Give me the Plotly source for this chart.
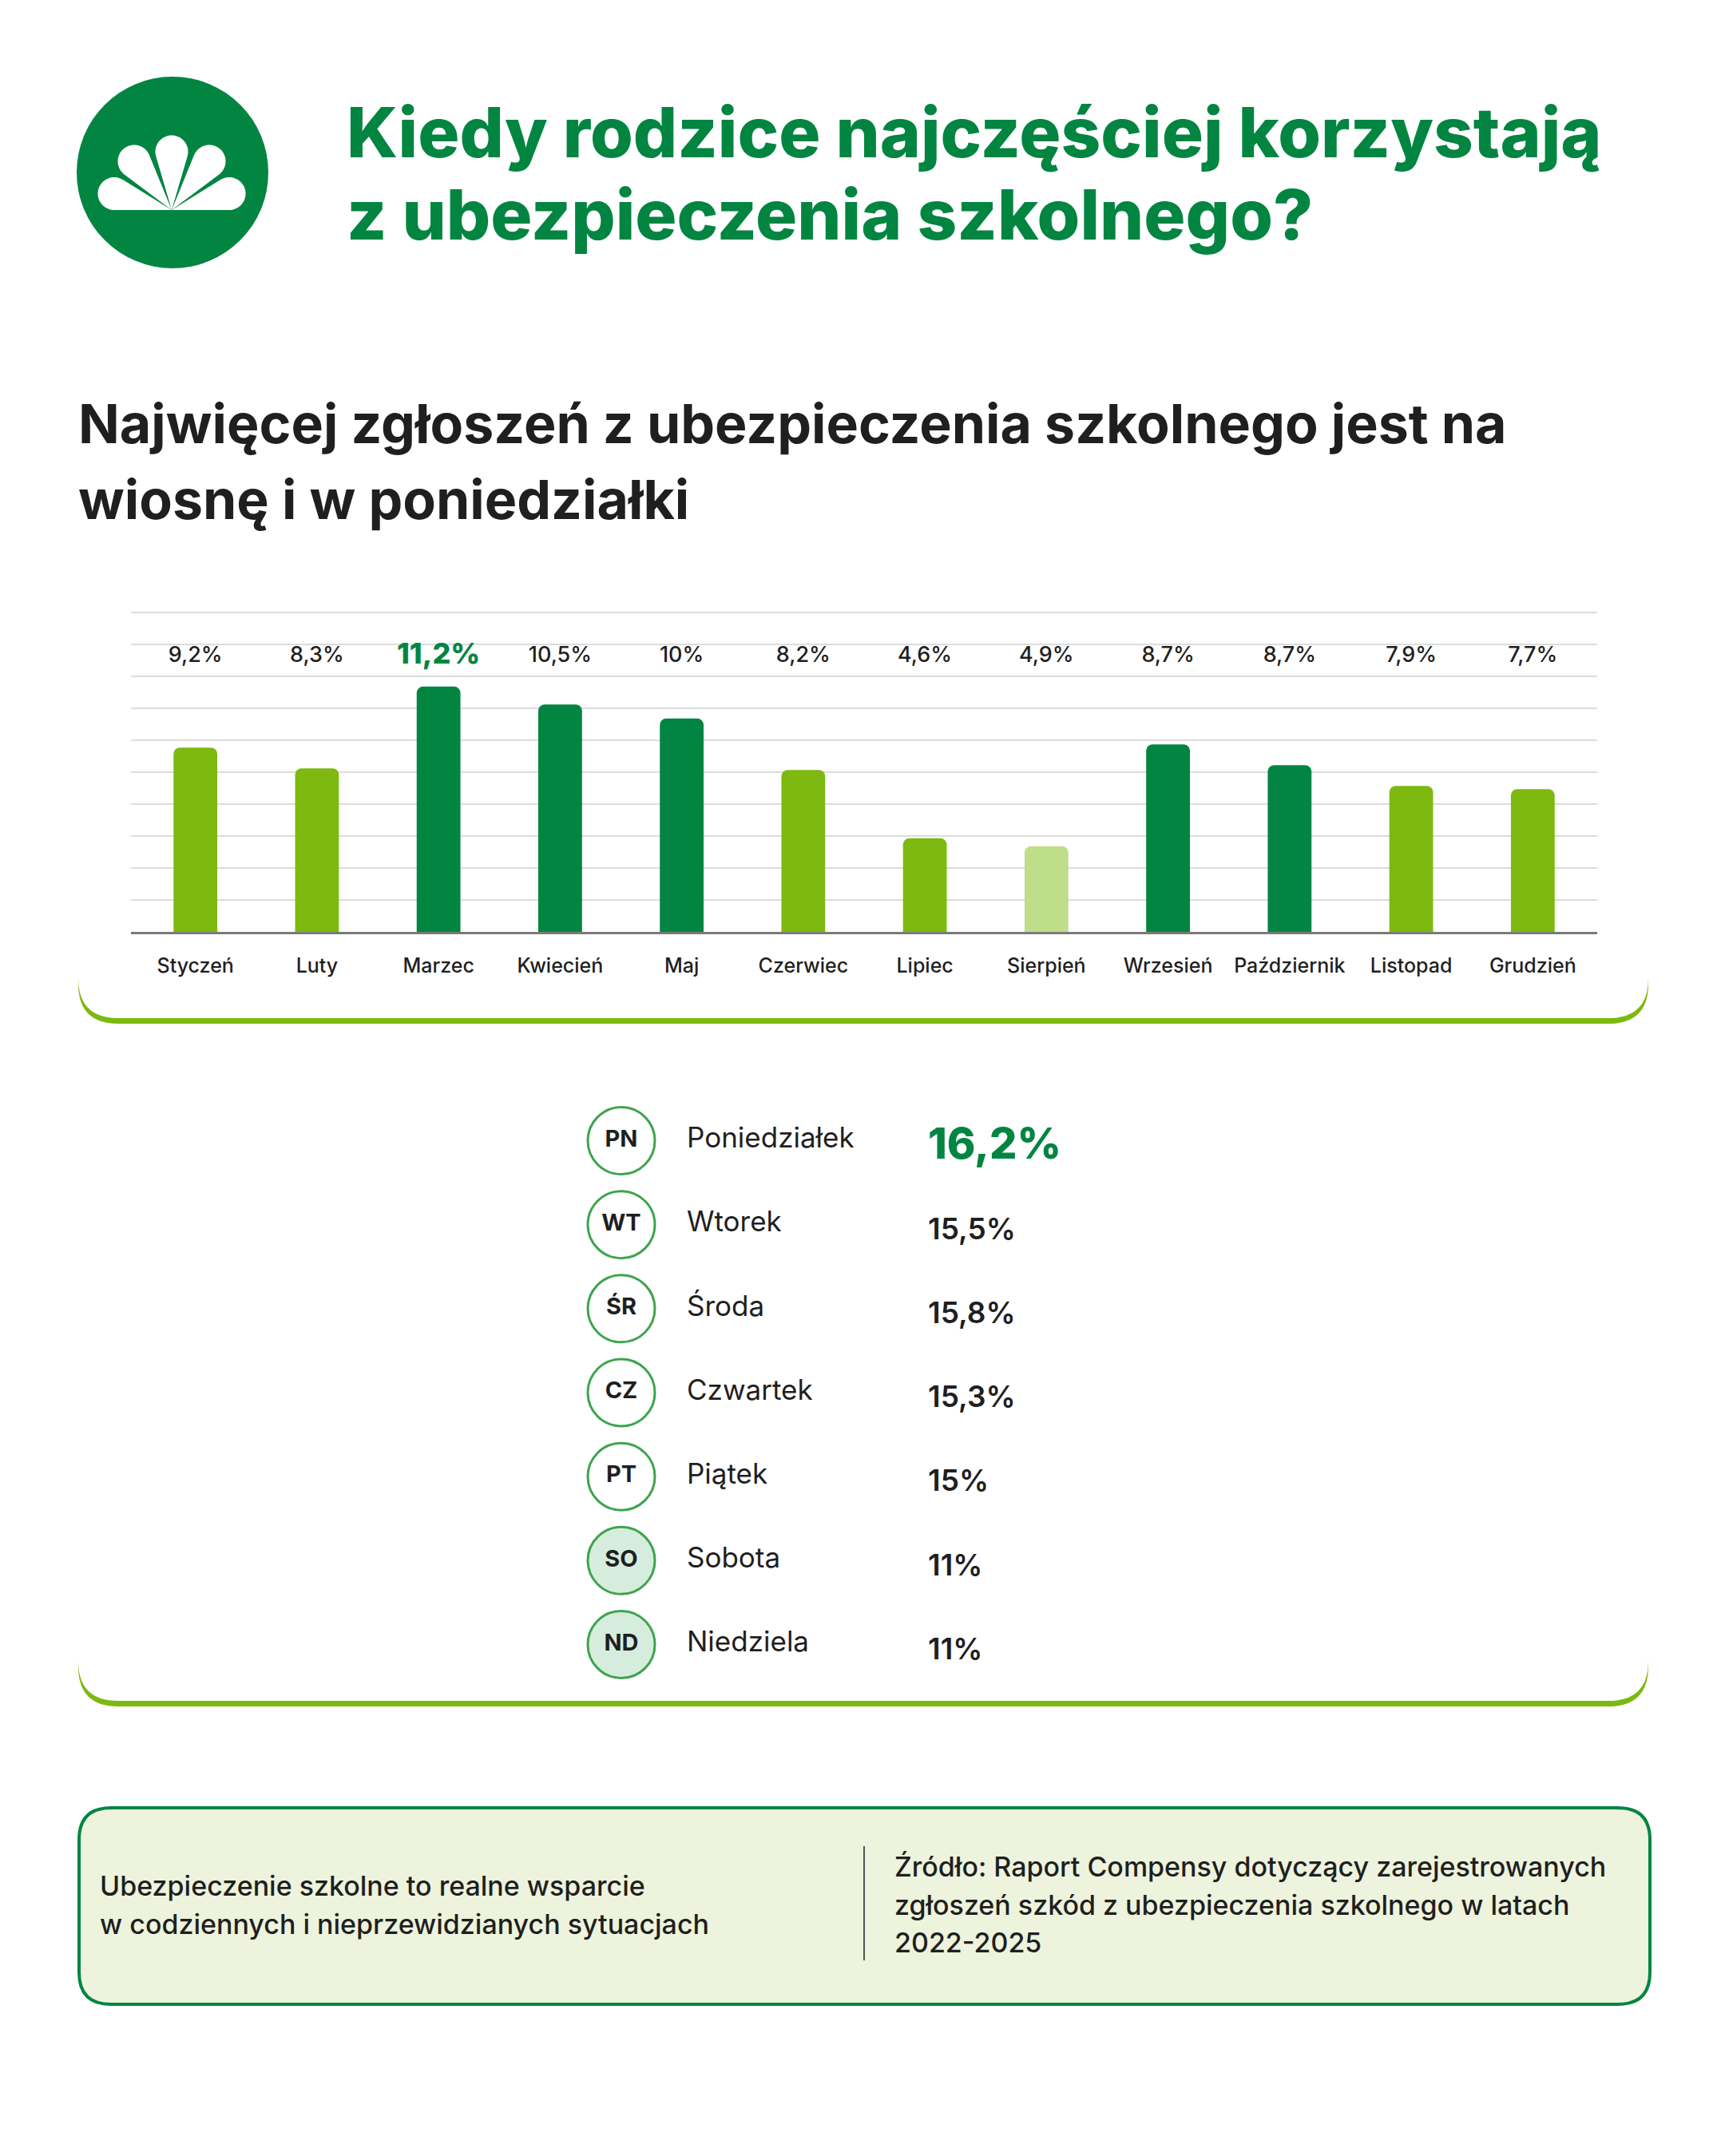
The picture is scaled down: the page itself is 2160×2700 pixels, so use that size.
import math

import plotly.graph_objects as go

# the page puts the plot 8px in from the top left corner, so the figure is
# made 8px smaller and every position below is given in page pixels
OFF = 8
W, H = 2160 - OFF, 2700 - OFF
FONT = 'Inter'
DARK_GREEN = '#038542'
LIGHT_GREEN = '#7DB910'
PALE_GREEN = '#BFDE8A'
TEXT = '#1f1f1f'

# months: labels printed above the bars and bar heights as drawn (grid units)
months = ['Styczeń', 'Luty', 'Marzec', 'Kwiecień', 'Maj', 'Czerwiec', 'Lipiec',
          'Sierpień', 'Wrzesień', 'Październik', 'Listopad', 'Grudzień']
month_labels = ['9,2%', '8,3%', '11,2%', '10,5%', '10%', '8,2%', '4,6%',
                '4,9%', '8,7%', '8,7%', '7,9%', '7,7%']
bar_heights = [5.77, 5.12, 7.68, 7.12, 6.68, 5.07, 2.93, 2.68, 5.87, 5.22, 4.57, 4.47]
bar_shades = ['light', 'light', 'dark', 'dark', 'dark', 'light', 'light',
              'pale', 'dark', 'dark', 'light', 'light']

# weekdays
day_abbr = ['PN', 'WT', 'ŚR', 'CZ', 'PT', 'SO', 'ND']
day_names = ['Poniedziałek', 'Wtorek', 'Środa', 'Czwartek', 'Piątek', 'Sobota', 'Niedziela']
day_share = ['16,2%', '15,5%', '15,8%', '15,3%', '15%', '11%', '11%']


def px(x):
    return (x - OFF) / W


def py(y):
    return 1 - (y - OFF) / H


def rounded_rect(x0, y0, x1, y1, r):
    # path in paper coords, built from pixel positions
    pts = [
        f'M {px(x0 + r)} {py(y0)}', f'L {px(x1 - r)} {py(y0)}',
        f'Q {px(x1)} {py(y0)} {px(x1)} {py(y0 + r)}', f'L {px(x1)} {py(y1 - r)}',
        f'Q {px(x1)} {py(y1)} {px(x1 - r)} {py(y1)}', f'L {px(x0 + r)} {py(y1)}',
        f'Q {px(x0)} {py(y1)} {px(x0)} {py(y1 - r)}', f'L {px(x0)} {py(y0 + r)}',
        f'Q {px(x0)} {py(y0)} {px(x0 + r)} {py(y0)}', 'Z']
    return ' '.join(pts)


def petal(cx, cy, r, hx, hy, n=40):
    # teardrop from the hub point to a round end
    d = math.hypot(cx - hx, cy - hy)
    theta = math.atan2(cy - hy, cx - hx)
    beta = math.acos(r / d)
    a1 = theta + math.pi + beta
    a2 = theta + 3 * math.pi - beta
    path = [f'M {px(hx)} {py(hy)}']
    for i in range(n + 1):
        a = a1 + (a2 - a1) * i / n
        path.append(f'L {px(cx + r * math.cos(a))} {py(cy + r * math.sin(a))}')
    path.append('Z')
    return ' '.join(path)


shapes = []

# cards with green bottom edge
for top, bottom in [(700, 1275), (1300, 2130)]:
    shapes.append(dict(type='path', xref='paper', yref='paper', layer='below',
                       path=rounded_rect(98, top, 2064, bottom + 7, 50),
                       fillcolor=LIGHT_GREEN, line=dict(width=0)))
    shapes.append(dict(type='path', xref='paper', yref='paper', layer='below',
                       path=rounded_rect(98, top - 10, 2064, bottom, 50),
                       fillcolor='white', line=dict(width=0)))

# footer box
shapes.append(dict(type='path', xref='paper', yref='paper', layer='below',
                   path=rounded_rect(99, 2264, 2066, 2510, 40),
                   fillcolor='#EDF3DC', line=dict(color=DARK_GREEN, width=4)))
shapes.append(dict(type='line', xref='paper', yref='paper',
                   x0=px(1082), x1=px(1082), y0=py(2312), y1=py(2455),
                   line=dict(color='#555555', width=2)))

# logo
shapes.append(dict(type='circle', xref='paper', yref='paper',
                   x0=px(96), x1=px(336), y0=py(96), y1=py(336),
                   fillcolor=DARK_GREEN, line=dict(width=0)))
for cx, cy in [(143, 242.5), (168, 202), (215, 190), (262, 202), (287, 242.5)]:
    shapes.append(dict(type='path', xref='paper', yref='paper',
                       path=petal(cx, cy, 20.5, 215, 263),
                       fillcolor='white', line=dict(width=0)))

annotations = []


def text(x, y, s, size, color=TEXT, weight=400, anchor='left'):
    annotations.append(dict(xref='paper', yref='paper', x=px(x), y=py(y), text=s,
                            showarrow=False, xanchor=anchor, yanchor='middle',
                            font=dict(family=FONT, size=size, color=color, weight=weight)))


text(432, 165, 'Kiedy rodzice najczęściej korzystają', 87, DARK_GREEN, 800)
text(432, 268, 'z ubezpieczenia szkolnego?', 87, DARK_GREEN, 800)
text(96, 530, 'Najwięcej zgłoszeń z ubezpieczenia szkolnego jest na', 68, TEXT, 700)
text(96, 625, 'wiosnę i w poniedziałki', 68, TEXT, 700)

text(123, 2361, 'Ubezpieczenie szkolne to realne wsparcie', 34, TEXT, 500)
text(123, 2409, 'w codziennych i nieprzewidzianych sytuacjach', 34, TEXT, 500)
text(1118, 2337, 'Źródło: Raport Compensy dotyczący zarejestrowanych', 34, TEXT, 500)
text(1118, 2385, 'zgłoszeń szkód z ubezpieczenia szkolnego w latach', 34, TEXT, 500)
text(1118, 2432, '2022-2025', 34, TEXT, 500)

shade_colors = {'dark': DARK_GREEN, 'light': LIGHT_GREEN, 'pale': PALE_GREEN}
top_idx = bar_heights.index(max(bar_heights))

fig = go.Figure()

fig.add_trace(go.Bar(
    x=months, y=bar_heights, width=0.36,
    marker=dict(color=[shade_colors[s] for s in bar_shades], cornerradius=8, line=dict(width=0)),
    hoverinfo='skip'))

fig.add_trace(go.Scatter(
    x=months, y=[8.62] * len(months), mode='text', text=month_labels,
    textposition='middle center',
    textfont=dict(family=FONT,
                  size=[36 if i == top_idx else 27 for i in range(len(months))],
                  color=[DARK_GREEN if i == top_idx else TEXT for i in range(len(months))],
                  weight=[800 if i == top_idx else 500 for i in range(len(months))]),
    hoverinfo='skip'))

# weekday list on its own invisible axes (x in page pixels)
fig.add_trace(go.Scatter(
    x=[778] * len(day_abbr), y=day_names, mode='markers+text', text=day_abbr,
    textposition='middle center',
    marker=dict(size=84, color=['white'] * 5 + ['#D6EDDD'] * 2,
                line=dict(color='#3DA44D', width=3)),
    textfont=dict(family=FONT, size=29, color=TEXT, weight=700),
    xaxis='x2', yaxis='y2', hoverinfo='skip'))

fig.add_trace(go.Scatter(
    x=[860] * len(day_names), y=day_names, mode='text', text=day_names,
    textposition='middle right',
    textfont=dict(family=FONT, size=35, color=TEXT, weight=400),
    xaxis='x2', yaxis='y2', hoverinfo='skip'))

# shares sit a little lower than the day names
fig.add_trace(go.Scatter(
    x=[1162] * len(day_share), y=day_names, mode='text', text=day_share,
    textposition='middle right',
    textfont=dict(family=FONT,
                  size=[54] + [37] * 6,
                  color=[DARK_GREEN] + [TEXT] * 6,
                  weight=[800] + [600] * 6),
    xaxis='x2', yaxis='y3', hoverinfo='skip'))

rows_top, rows_bottom = 1376, 2112

fig.update_layout(
    width=W, height=H,
    margin=dict(l=0, r=0, t=0, b=0),
    paper_bgcolor='white', plot_bgcolor='rgba(0,0,0,0)',
    showlegend=False,
    font=dict(family=FONT, color=TEXT),
    shapes=shapes, annotations=annotations,
    xaxis=dict(domain=[px(164), px(2000)], range=[-0.53, 11.53],
               showline=True, linecolor='#7a7a7a', linewidth=3,
               showgrid=False, ticks='', tickfont=dict(family=FONT, size=25, color=TEXT, weight=500),
               ticklabelstandoff=18, fixedrange=True),
    # range runs a little past 10 so the top grid line at 10 is drawn
    yaxis=dict(domain=[py(1167), py(755)], range=[0, 10.3], dtick=1, showticklabels=False,
               gridcolor='#dcdcdc', gridwidth=2, zeroline=False, fixedrange=True),
    xaxis2=dict(domain=[0, 1], range=[OFF, OFF + W], visible=False, anchor='y2', fixedrange=True),
    yaxis2=dict(domain=[py(rows_bottom), py(rows_top)], range=[6.5, -0.5], type='category',
                categoryorder='array', categoryarray=day_names,
                visible=False, anchor='x2', fixedrange=True),
    yaxis3=dict(domain=[py(rows_bottom + 9), py(rows_top + 9)], range=[6.5, -0.5], type='category',
                categoryorder='array', categoryarray=day_names,
                visible=False, anchor='x2', fixedrange=True),
)

fig.write_html('out.html')
